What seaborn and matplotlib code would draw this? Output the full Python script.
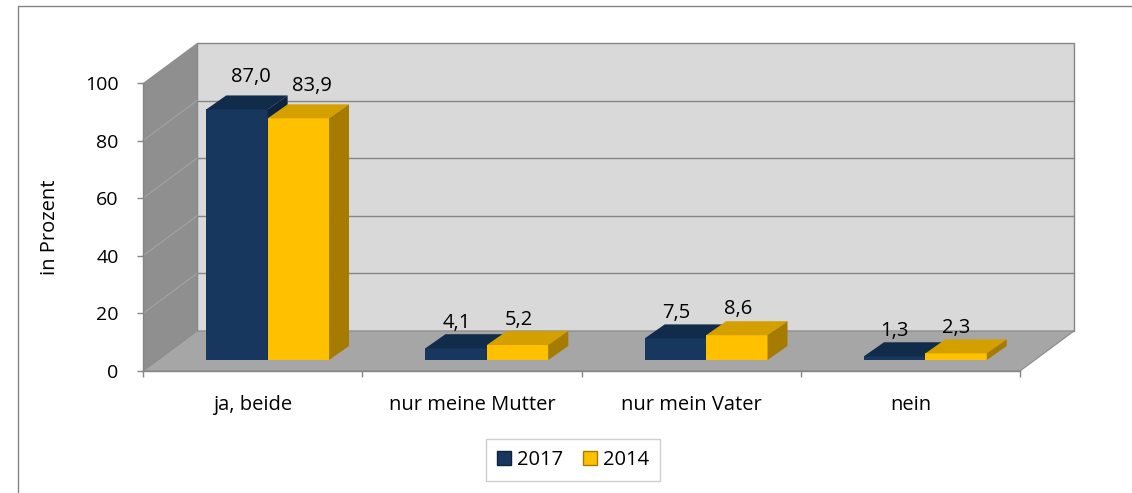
import pandas as pd
import matplotlib.pyplot as plt
import seaborn as sns
from matplotlib.patches import Polygon, Patch
from matplotlib.lines import Line2D
from matplotlib.transforms import Affine2D

# Data
antworten = ["ja, beide", "nur meine Mutter", "nur mein Vater", "nein"]
jahre = ["2017", "2014"]
werte_2017 = [87.0, 4.1, 7.5, 1.3]
werte_2014 = [83.9, 5.2, 8.6, 2.3]
y_ticks = [0, 20, 40, 60, 80, 100]

df = pd.DataFrame({
    "Antwort": antworten * 2,
    "Jahr": ["2017"] * 4 + ["2014"] * 4,
    "Prozent": werte_2017 + werte_2014,
})

sns.set_theme(style="white")
plt.rcParams["font.family"] = ["Open Sans", "DejaVu Sans"]
plt.rcParams["text.color"] = "black"
plt.rcParams["axes.labelcolor"] = "black"
plt.rcParams["xtick.labelcolor"] = "black"
plt.rcParams["ytick.labelcolor"] = "black"

navy = "#17375e"
gold = "#ffc000"
face_cols = {"2017": (navy, "#112b4b", "#0e233f"), "2014": (gold, "#d4a000", "#a67c00")}

fig = plt.figure(figsize=(11.32, 4.93), dpi=100)
ax = fig.add_axes([143 / 1132, 122 / 493, 877 / 1132, 288 / 493])

sns.barplot(data=df, x="Antwort", y="Prozent", hue="Jahr", hue_order=jahre,
            palette=[navy, gold], saturation=1, width=0.56, gap=0,
            edgecolor="none", legend=False, ax=ax)
ax.set_xlim(-0.5, 3.5)
ax.set_ylim(0, 100)
ax.patch.set_alpha(0)

# pixel -> data helpers for the fake 3D depth
px_x = 877 / 4
px_y = 288 / 100
wdx, wdy = 54 / px_x, 40 / px_y      # wall depth
ox, oy = 15 / px_x, 11 / px_y        # bar front plane offset
bdx, bdy = 20 / px_x, 14 / px_y      # bar depth

# walls and floor
x0, x1 = -0.5, 3.5
ax.add_patch(Polygon([(x0 + wdx, wdy), (x1 + wdx, wdy), (x1 + wdx, 100 + wdy), (x0 + wdx, 100 + wdy)],
                     closed=True, facecolor="#d9d9d9", edgecolor="#868686", lw=1, clip_on=False, zorder=0))
ax.add_patch(Polygon([(x0, 0), (x0, 100), (x0 + wdx, 100 + wdy), (x0 + wdx, wdy)],
                     closed=True, facecolor="#8f8f8f", edgecolor="none", clip_on=False, zorder=0.2))
ax.add_patch(Polygon([(x0, 0), (x1, 0), (x1 + wdx, wdy), (x0 + wdx, wdy)],
                     closed=True, facecolor="#a6a6a6", edgecolor="#8a8a8a", lw=0.8, clip_on=False, zorder=0.3))
for v in y_ticks[1:-1]:
    ax.plot([x0 + wdx, x1 + wdx], [v + wdy, v + wdy], color="#868686", lw=1, clip_on=False, zorder=0.1)
    ax.plot([x0, x0 + wdx], [v, v + wdy], color="#a3a3a3", lw=0.8, clip_on=False, zorder=0.25)

shift = Affine2D().translate(15, 11)
for jahr, container in zip(jahre, ax.containers):
    front, top, side = face_cols[jahr]
    z = 2 if jahr == "2017" else 3
    for bar in container:
        x, w, h = bar.get_x(), bar.get_width(), bar.get_height()
        bar.set_transform(ax.transData + shift)
        bar.set_zorder(z)
        bar.set_clip_on(False)
        ax.add_patch(Polygon([(x + ox, h + oy), (x + w + ox, h + oy), (x + w + ox + bdx, h + oy + bdy), (x + ox + bdx, h + oy + bdy)],
                             closed=True, facecolor=top, edgecolor="none", clip_on=False, zorder=z + 0.1))
        ax.add_patch(Polygon([(x + w + ox, oy), (x + w + ox, h + oy), (x + w + ox + bdx, h + oy + bdy), (x + w + ox + bdx, oy + bdy)],
                             closed=True, facecolor=side, edgecolor="none", clip_on=False, zorder=z + 0.1))
        # labels drift right with height, like the perspective in the original
        ax.text(x + w / 2 + ox + h * 0.16 / px_x, h + 12.5 + h * 0.03, f"{h:.1f}".replace(".", ","),
                ha="center", va="center", fontsize=14.5, color="black", zorder=5)

# axes styling
for s in ["top", "right"]:
    ax.spines[s].set_visible(False)
for s in ["left", "bottom"]:
    ax.spines[s].set_color("#868686")
    ax.spines[s].set_linewidth(1)
    ax.spines[s].set_zorder(1)
ax.set_yticks(y_ticks)
ax.set_yticklabels([str(t) for t in y_ticks])
ax.tick_params(axis="y", length=4.5, width=1, color="#868686", labelcolor="black",
               direction="out", pad=13, labelsize=14, left=True)
ax.set_xticks(range(4))
ax.set_xticklabels(antworten)
ax.set_xticks([-0.5, 0.5, 1.5, 2.5, 3.5], minor=True)
ax.tick_params(axis="x", which="major", length=0, pad=17, labelsize=14.5, labelcolor="black")
ax.tick_params(axis="x", which="minor", length=4.5, width=1, color="#868686", direction="out", bottom=True)
ax.set_xlabel("")
ax.set_ylabel("in Prozent", fontsize=14.5, color="black")
ax.yaxis.set_label_coords(-0.095, 0.5)

handles = [Patch(facecolor=navy, edgecolor="#0e233f"), Patch(facecolor=gold, edgecolor="#a67c00")]
fig.legend(handles, jahre, loc="center", bbox_to_anchor=(573 / 1132, 1 - 460 / 493), ncol=2,
           fontsize=14.5, frameon=True, fancybox=False, edgecolor="#cfcfcf", framealpha=1,
           handlelength=0.7, handleheight=0.7, handletextpad=0.3, columnspacing=1.0, borderpad=0.55)

# outer chart border (left and top only visible)
fig.add_artist(Line2D([18 / 1132, 18 / 1132], [0, 1 - 6 / 493], color="#868686", lw=1))
fig.add_artist(Line2D([18 / 1132, 1], [1 - 6 / 493, 1 - 6 / 493], color="#868686", lw=1))

fig.savefig("out.png", dpi=100)
